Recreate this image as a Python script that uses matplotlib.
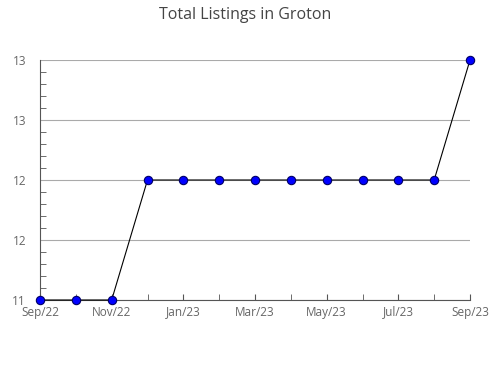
import numpy as np
import matplotlib.pyplot as plt
from matplotlib.ticker import FixedLocator, MultipleLocator

months = ["Sep/22", "Oct/22", "Nov/22", "Dec/22", "Jan/23", "Feb/23", "Mar/23",
          "Apr/23", "May/23", "Jun/23", "Jul/23", "Aug/23", "Sep/23"]
listings = [11, 11, 11, 12, 12, 12, 12, 12, 12, 12, 12, 12, 13]
y_ticks = [11, 11.5, 12, 12.5, 13]
y_labels = ["11", "12", "12", "13", "13"]

plt.rcParams["font.family"] = ["Open Sans", "DejaVu Sans"]

fig = plt.figure(figsize=(4.9, 3.8), dpi=100)
ax = fig.add_axes([40 / 490, 80 / 380, 430 / 490, 240 / 380])

x = np.arange(len(months))
ax.plot(x, listings, color="black", linewidth=0.8, marker="o", markersize=6,
        markerfacecolor="#0000ff", markeredgecolor="#000066", markeredgewidth=0.8,
        zorder=3, clip_on=False)

ax.set_xlim(0, len(months) - 1)
ax.set_ylim(11, 13)
ax.set_yticks(y_ticks)
ax.set_yticklabels(y_labels)
ax.yaxis.set_minor_locator(MultipleLocator(0.1))
ax.set_xticks(x[::2])
ax.set_xticklabels(months[::2])
ax.xaxis.set_minor_locator(FixedLocator(x))

ax.grid(axis="y", color="#aaaaaa", linewidth=0.8)
ax.set_axisbelow(True)
for side in ["top", "right"]:
    ax.spines[side].set_visible(False)
for side in ["left", "bottom"]:
    ax.spines[side].set_color("#555555")

ax.tick_params(axis="both", which="both", direction="in", colors="#555555",
               labelsize=8.5, labelcolor="#666666")
ax.tick_params(axis="y", which="major", length=0, pad=10)
ax.tick_params(axis="y", which="minor", length=4)
ax.tick_params(axis="x", which="major", length=4, pad=4)
ax.tick_params(axis="x", which="minor", length=4)

fig.suptitle("Total Listings in Groton", x=245 / 490, y=1 - 15 / 380,
             va="center", fontsize=11.5, color="#444444")

fig.savefig("out.png", dpi=100)
